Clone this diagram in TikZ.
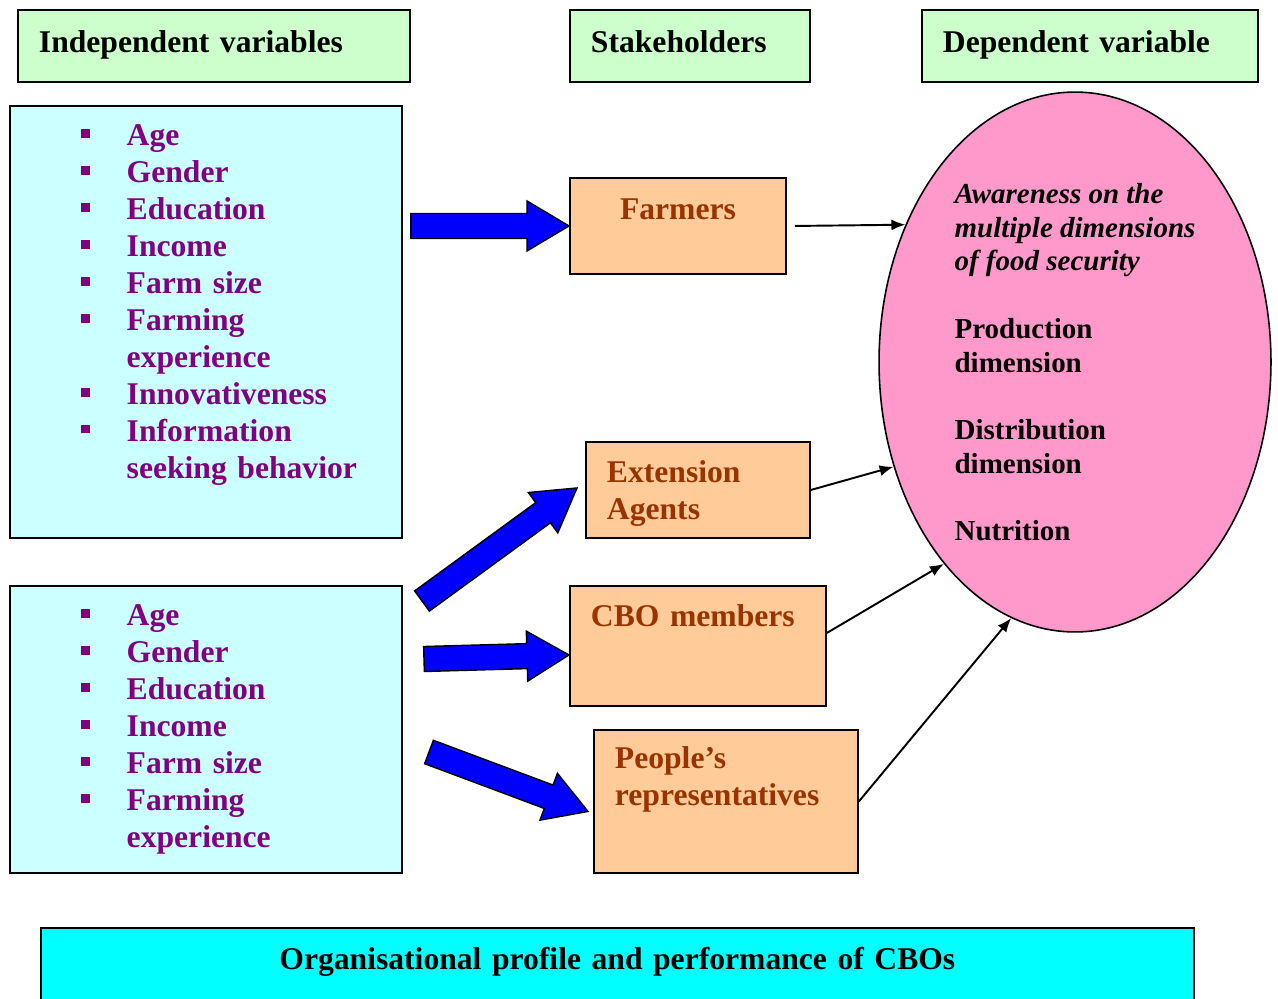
\documentclass[tikz,border=0pt]{standalone}
\usepackage{fontspec}
\setmainfont{Liberation Serif}
\usetikzlibrary{arrows.meta,calc,shapes.geometric}
\definecolor{hdrgreen}{HTML}{CCFFCC}
\definecolor{ivcyan}{HTML}{CCFFFF}
\definecolor{stakefill}{HTML}{FFCC99}
\definecolor{dvpink}{HTML}{FF99CC}
\definecolor{orgcyan}{HTML}{00FFFF}
\definecolor{itempurple}{HTML}{800080}
\definecolor{stakebrown}{HTML}{993300}
\definecolor{fatblue}{HTML}{0000FF}
\tikzset{
    >=Latex,
    cf/.style={
        box/.append style={draw,line width=1.1pt,rectangle,anchor=north west,inner ysep=0pt,inner xsep=0.42cm,align=left,font=\fontsize{18}{21}\selectfont\bfseries},
        hdr/.append style={box,fill=hdrgreen,text height=0.86cm,text depth=0.58cm},
        vars/.append style={box,fill=ivcyan,inner xsep=0pt,text width=7.84cm,text=itempurple,text height=0.8cm},
        stake/.append style={box,fill=stakefill,text=stakebrown,text height=0.82cm},
        dv/.append style={draw,line width=0.9pt,ellipse,fill=dvpink,minimum width=7.84cm,minimum height=10.8cm,inner sep=0pt,align=left,font=\fontsize{16.5}{19.3}\selectfont\bfseries},
        org/.append style={box,fill=orgcyan,align=center},
        link/.append style={-{Latex[length=0.28cm,width=0.22cm]},line width=1.1pt},
        fat/.append style={draw=black,line width=0.8pt,fill=fatblue,line join=miter}
    }
}
\newcommand{\sqbullet}{\rule[4.4pt]{5pt}{5pt}}
\newcommand{\fatarrow}[2]{%
    \coordinate (#1-neck) at ($(#2)!0.84cm!(#1)$);
    \draw[fat] ($(#1)!0.25cm!90:(#2)$) -- ($(#1-neck)!0.25cm!90:(#2)$) -- ($(#1-neck)!0.5cm!90:(#2)$) -- (#2)
        -- ($(#1-neck)!0.5cm!-90:(#2)$) -- ($(#1-neck)!0.25cm!-90:(#2)$) -- ($(#1)!0.25cm!-90:(#2)$) -- cycle;
}

\begin{document}
\begin{tikzpicture}[cf,x=0.02cm,y=-0.02cm]
    \useasboundingbox (0,0) rectangle (1278,998);
    \node[hdr,text width=7.0cm] (hiv) at (17,9) {Independent variables};
    \node[hdr,text width=3.96cm] (hst) at (569,9) {Stakeholders};
    \node[hdr,text width=5.88cm] (hdv) at (921,9) {Dependent variable};
    \node[vars,text depth=7.84cm] (iv1) at (9,105) {\begin{tabular}[t]{@{\hspace{1.42cm}}c@{\hspace{0.74cm}}l@{}}
        \sqbullet & Age\\
        \sqbullet & Gender\\
        \sqbullet & Education\\
        \sqbullet & Income\\
        \sqbullet & Farm size\\
        \sqbullet & Farming\\
                  & experience\\
        \sqbullet & Innovativeness\\
        \sqbullet & Information\\
                  & seeking behavior
    \end{tabular}};
    \node[vars,text depth=4.94cm] (iv2) at (9,585) {\begin{tabular}[t]{@{\hspace{1.42cm}}c@{\hspace{0.74cm}}l@{}}
        \sqbullet & Age\\
        \sqbullet & Gender\\
        \sqbullet & Education\\
        \sqbullet & Income\\
        \sqbullet & Farm size\\
        \sqbullet & Farming\\
                  & experience
    \end{tabular}};
    \node[stake,align=center,text width=3.48cm,text height=0.84cm,text depth=1.08cm] (farmers) at (569,177) {Farmers};
    \node[stake,text width=3.64cm,text depth=1.1cm] (ext) at (585,441) {\begin{tabular}[t]{@{}l@{}}Extension\\Agents\end{tabular}};
    \node[stake,text width=4.28cm,text depth=1.58cm] (cbo) at (569,585) {CBO members};
    \node[stake,text width=4.44cm,text height=0.78cm,text depth=2.08cm] (people) at (593,729) {\begin{tabular}[t]{@{}l@{}}People’s\\representatives\end{tabular}};
    \node[dv] (aware) at (1075,362) {\textit{Awareness on the}\\\textit{multiple dimensions}\\\textit{of food security}\\[19pt]
        Production\\dimension\\[19pt]Distribution\\dimension\\[19pt]Nutrition};
    \node[org,text width=22.22cm,text height=0.84cm,text depth=0.86cm] (cbos) at (40,927) {Organisational profile and performance of CBOs};
    % block arrows into the stakeholders
    \coordinate (a1) at ($(iv1.east |- farmers.west)+(8,0)$);
    \coordinate (a2) at (422,601);
    \coordinate (a3) at (424,659);
    \coordinate (a4) at (429,752);
    \coordinate (ext-in) at ([shift={(-8,-2)}]ext.west);
    \coordinate (cbo-in) at ([shift={(0,9)}]cbo.west);
    \coordinate (people-in) at ([shift={(-5,10)}]people.west);
    \fatarrow{a1}{farmers.west}
    \fatarrow{a2}{ext-in}
    \fatarrow{a3}{cbo-in}
    \fatarrow{a4}{people-in}
    \draw[link] ([shift={(8,0)}]farmers.east) -- (aware.141);
    \draw[link] (ext.east) -- (aware.210);
    \draw[link] ([shift={(0,-13)}]cbo.east) -- (aware.237);
    \draw[link] (people.east) -- (aware.256);
\end{tikzpicture}
\end{document}
